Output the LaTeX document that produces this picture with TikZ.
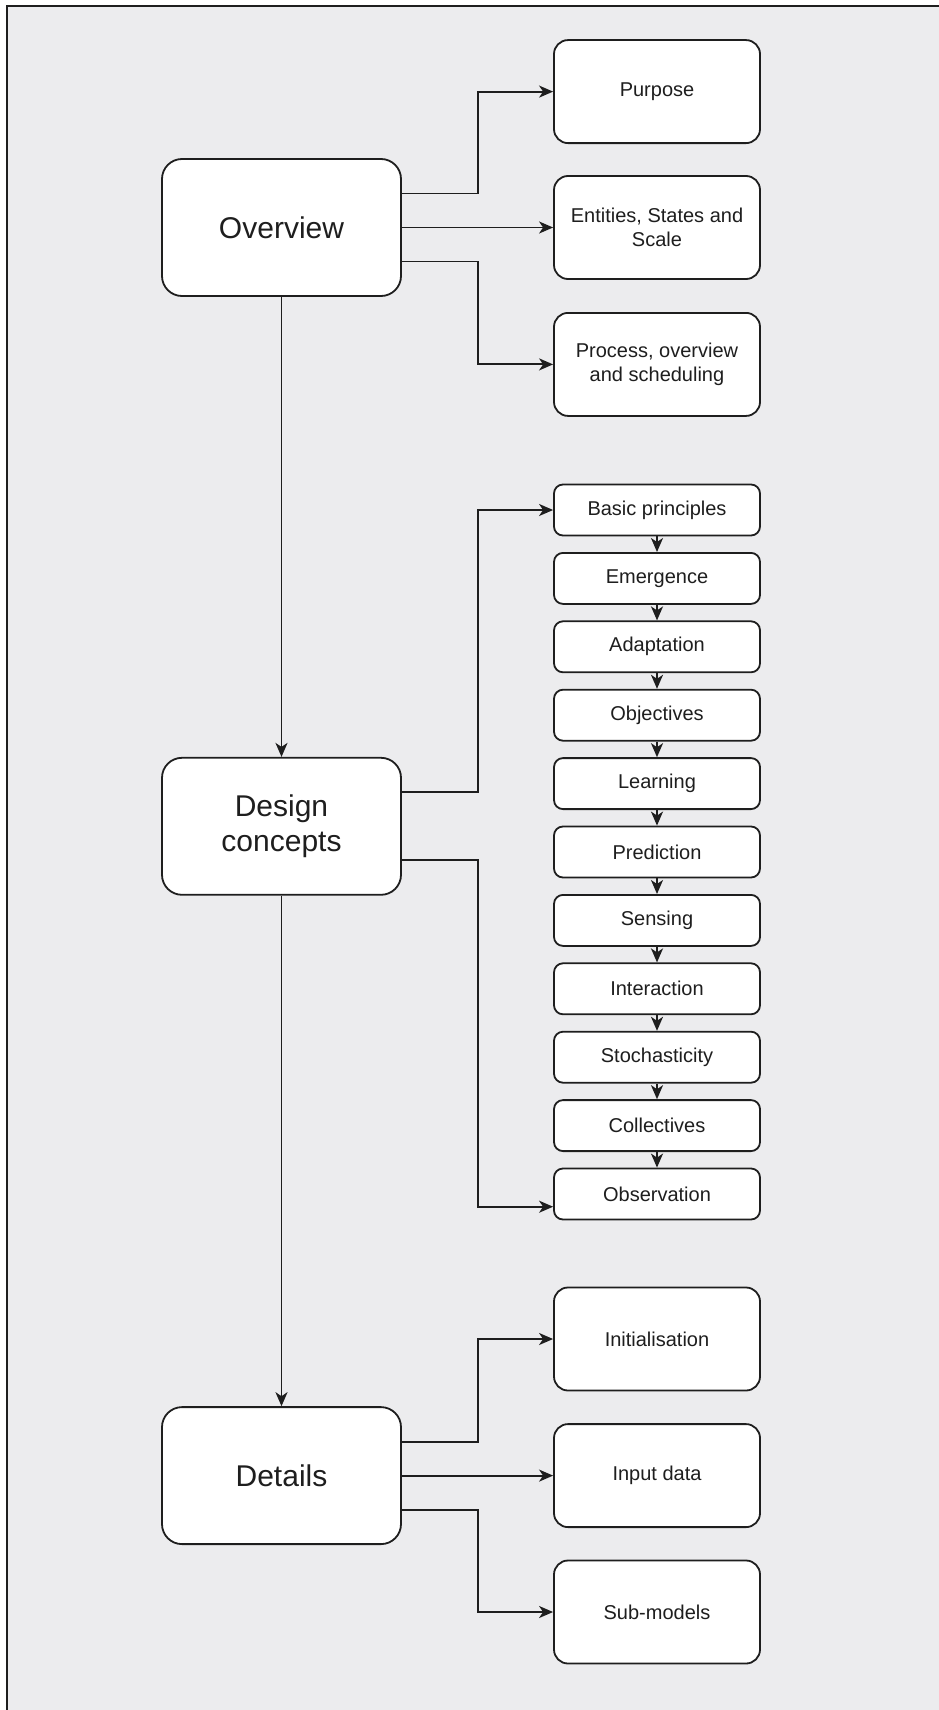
\documentclass[tikz,border=0pt]{standalone}
\usepackage{fontspec}
\setmainfont{Liberation Sans}
\usetikzlibrary{arrows.meta}
\definecolor{bgc}{HTML}{ECECEE}
\definecolor{ink}{HTML}{1E1E1E}
\begin{document}
\begin{tikzpicture}[x=1pt,y=-1pt,
  bigbox/.style={draw=ink, line width=1.8pt, fill=white, rounded corners=20pt,
    minimum width=239pt, minimum height=137pt, align=center, text=ink,
    font=\fontsize{30}{35}\selectfont},
  rbox/.style={draw=ink, line width=1.8pt, fill=white, rounded corners=14pt,
    minimum width=206pt, minimum height=103pt, align=center, text=ink,
    font=\fontsize{20}{24}\selectfont},
  sbox/.style={draw=ink, line width=1.8pt, fill=white, rounded corners=9pt,
    minimum width=206pt, minimum height=51pt, align=center, text=ink,
    font=\fontsize{20}{24}\selectfont},
  arr/.style={draw=ink, line width=1.9pt, -{Stealth[length=14pt,width=12pt,inset=4pt]}},
  conn/.style={draw=ink, line width=1.9pt}]
\useasboundingbox (0,0) rectangle (939,1710);
\fill[white] (0,0) rectangle (939,1710);
\fill[bgc] (7,6) rectangle (939,1710);
\draw[ink, line width=2pt] (939,6) -- (7,6) -- (7,1710);

% left column
\node[bigbox] (ov) at (281.5,227.5) {Overview};
\node[bigbox] (dc) at (281.5,826.3) {Design\\concepts};
\node[bigbox] (dt) at (281.5,1475.6) {Details};

% right large boxes
\node[rbox] (pu) at (657,91.6) {Purpose};
\node[rbox] (es) at (657,227.5) {Entities, States and\\Scale};
\node[rbox] (pr) at (657,364.4) {Process, overview\\and scheduling};

\node[rbox] (in) at (657,1339) {Initialisation};
\node[rbox] (id) at (657,1475.6) {Input data};
\node[rbox] (sm) at (657,1612) {Sub-models};

% small boxes
\node[sbox] (s1) at (657,510) {Basic principles};
\node[sbox] (s2) at (657,578.4) {Emergence};
\node[sbox] (s3) at (657,646.8) {Adaptation};
\node[sbox] (s4) at (657,715.2) {Objectives};
\node[sbox] (s5) at (657,783.6) {Learning};
\node[sbox] (s6) at (657,852) {Prediction};
\node[sbox] (s7) at (657,920.4) {Sensing};
\node[sbox] (s8) at (657,988.8) {Interaction};
\node[sbox] (s9) at (657,1057.2) {Stochasticity};
\node[sbox] (s10) at (657,1125.6) {Collectives};
\node[sbox] (s11) at (657,1194) {Observation};

\coordinate (bx) at (478,0);

% vertical main
\draw[arr] (ov.south) -- (dc.north);
\draw[arr] (dc.south) -- (dt.north);

% overview branches
\coordinate (o1) at ([yshift=34pt]ov.east);
\coordinate (o3) at ([yshift=-34pt]ov.east);
\draw[arr] (o1) -- (o1 -| bx) |- (pu.west);
\draw[arr] (ov.east) -- (es.west);
\draw[arr] (o3) -- (o3 -| bx) |- (pr.west);

% design branches
\coordinate (d1) at ([yshift=34pt]dc.east);
\coordinate (d3) at ([yshift=-34pt]dc.east);
\coordinate (obsin) at ([yshift=-12.7pt]s11.west);
\draw[arr] (d1) -- (d1 -| bx) |- (s1.west);
\draw[arr] (d3) -- (d3 -| bx) |- (obsin);

% details branches
\coordinate (t1) at ([yshift=34pt]dt.east);
\coordinate (t3) at ([yshift=-34pt]dt.east);
\draw[arr] (t1) -- (t1 -| bx) |- (in.west);
\draw[arr] (dt.east) -- (id.west);
\draw[arr] (t3) -- (t3 -| bx) |- (sm.west);

% chain
\foreach \a/\b in {s1/s2,s2/s3,s3/s4,s4/s5,s5/s6,s6/s7,s7/s8,s8/s9,s9/s10,s10/s11}
  \draw[arr] (\a.south) -- (\b.north);
\end{tikzpicture}
\end{document}
